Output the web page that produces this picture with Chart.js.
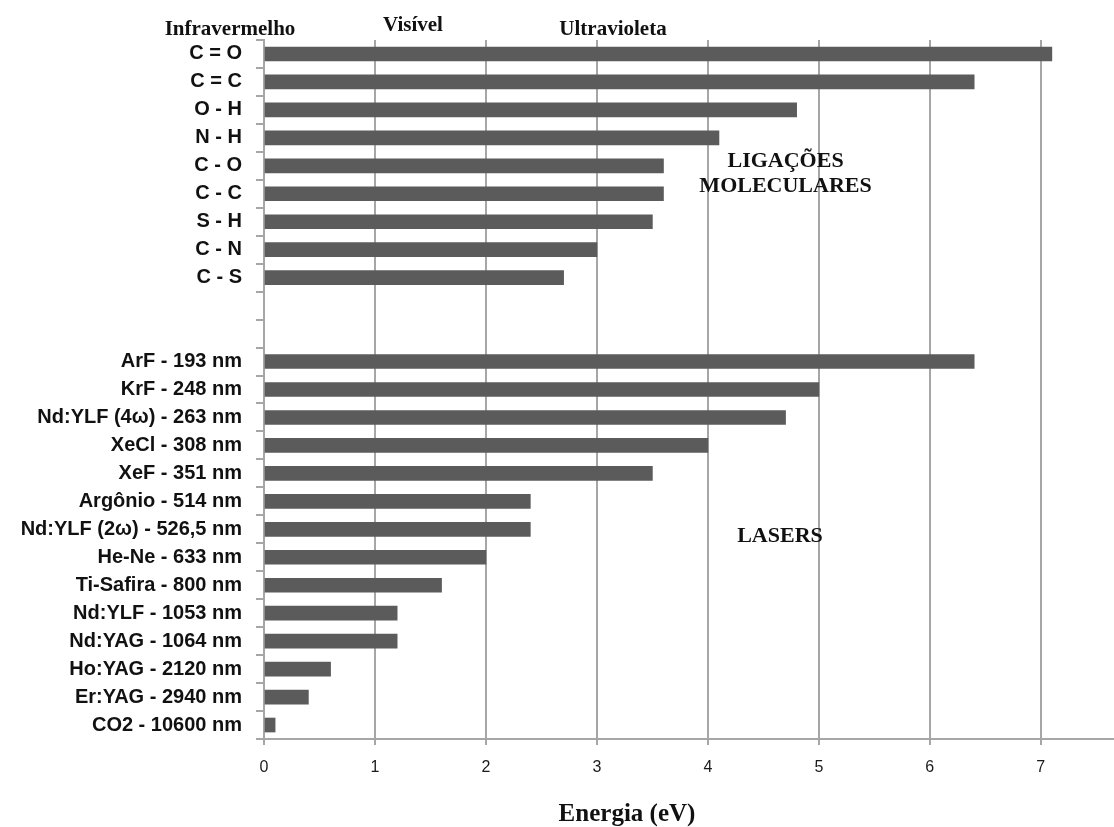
<!DOCTYPE html>
<html>
<head>
<meta charset="utf-8">
<script src="https://cdn.jsdelivr.net/npm/chart.js@4/dist/chart.umd.min.js"></script>
<style>
	html, body { margin: 0; padding: 0; background: #fff; }
	#wrap { position: relative; width: 1114px; height: 827px; }
</style>
</head>
<body>
<div id="wrap"><canvas id="chart"></canvas></div>
<script>
/* Energia de ligações moleculares e de fótons de lasers */
const categories = [
	'C = O', 'C = C', 'O - H', 'N - H', 'C - O', 'C - C', 'S - H', 'C - N', 'C - S',
	'', '',
	'ArF - 193 nm', 'KrF - 248 nm', 'Nd:YLF (4\u03c9) - 263 nm', 'XeCl - 308 nm', 'XeF - 351 nm',
	'Arg\u00f4nio - 514 nm', 'Nd:YLF (2\u03c9) - 526,5 nm', 'He-Ne - 633 nm', 'Ti-Safira - 800 nm',
	'Nd:YLF - 1053 nm', 'Nd:YAG - 1064 nm', 'Ho:YAG - 2120 nm', 'Er:YAG - 2940 nm', 'CO2 - 10600 nm',
];
const energia = [
	7.1, 6.4, 4.8, 4.1, 3.6, 3.6, 3.5, 3.0, 2.7,
	null, null,
	6.4, 5.0, 4.7, 4.0, 3.5, 2.4, 2.4, 2.0, 1.6, 1.2, 1.2, 0.6, 0.4, 0.1,
];
const xTicks = [0, 1, 2, 3, 4, 5, 6, 7];

const serif = '"Liberation Serif", "DejaVu Serif", serif';
const sans = '"Liberation Sans", Arial, sans-serif';

const textPlugin = {
	id: 'labels',
	afterDraw(chart) {
		const ctx = chart.ctx;
		const x = chart.scales.x;
		const y = chart.scales.y;
		ctx.save();
		ctx.fillStyle = '#111';
		ctx.textAlign = 'center';
		ctx.textBaseline = 'middle';
		ctx.font = 'bold 21px ' + serif;
		ctx.fillText('Infravermelho', 230, 30);
		ctx.fillText('Vis\u00edvel', 413, 26);
		ctx.fillText('Ultravioleta', 613, 30);
		ctx.font = 'bold 22px ' + serif;
		const cx = x.getPixelForValue(4.7);
		ctx.fillText('LIGA\u00c7\u00d5ES', cx, y.getPixelForValue(4) - 5);
		ctx.fillText('MOLECULARES', cx, y.getPixelForValue(5) - 7);
		ctx.fillText('LASERS', x.getPixelForValue(4.65), y.getPixelForValue(17) + 7);
		ctx.font = 'bold 25px ' + serif;
		ctx.fillText('Energia (eV)', 627, 815);
		ctx.restore();
	},
};

new Chart(document.getElementById('chart'), {
	type: 'bar',
	data: {
		labels: categories,
		datasets: [{
			data: energia,
			backgroundColor: '#5b5b5b',
			barThickness: 14,
		}],
	},
	options: {
		indexAxis: 'y',
		responsive: true,
		maintainAspectRatio: false,
		animation: false,
		layout: { padding: { top: 40, right: 0, left: 0, bottom: 0 } },
		plugins: {
			legend: { display: false },
			tooltip: { enabled: false },
		},
		scales: {
			x: {
				min: 0,
				max: 7.66,
				afterFit(scale) { scale.height = 88; },
				afterBuildTicks(scale) { scale.ticks = xTicks.map(v => ({ value: v })); },
				grid: { color: '#a6a6a6', lineWidth: 2, tickLength: 6, tickColor: '#a6a6a6' },
				border: { color: '#a6a6a6', width: 2 },
				ticks: { color: '#1a1a1a', font: { family: sans, size: 16 }, padding: 13 },
			},
			y: {
				afterFit(scale) { scale.width = 264; },
				grid: { drawOnChartArea: false, tickLength: 8, color: '#a6a6a6', lineWidth: 2 },
				border: { color: '#a6a6a6', width: 2 },
				ticks: { color: '#111', autoSkip: false, padding: 14, font: { family: sans, size: 20, weight: 'bold' } },
			},
		},
	},
	plugins: [textPlugin],
});
</script>
</body>
</html>
